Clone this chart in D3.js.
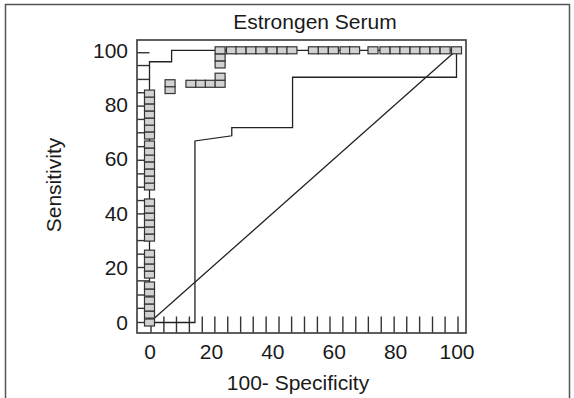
<!DOCTYPE html>
<html><head><meta charset="utf-8">
<script src="https://cdn.jsdelivr.net/npm/d3@7/dist/d3.min.js"></script>
<style>
body{margin:0;background:#fff}
svg{display:block}
text{font-family:"Liberation Sans",Arial,sans-serif;fill:#1a1a1a}
</style>
</head><body><svg id="c" width="574" height="398"></svg>
<script>
// ---------- data ----------
const chartTitle = "Estrongen Serum";
const xTitle = "100- Specificity";
const yTitle = "Sensitivity";
const xTickValues = [0, 20, 40, 60, 80, 100];
const yTickValues = [0, 20, 40, 60, 80, 100];

// fitted ROC curve (upper)
const rocX = [0, 0, 7.2, 7.2, 100];
const rocY = [0, 95.8, 95.8, 100, 100];
// second (stepped) curve
const lowX = [0, 14.8, 14.8, 26.8, 26.8, 46.6, 46.6, 100, 100];
const lowY = [0, 0, 66.7, 68.6, 71.6, 71.6, 90.1, 90.1, 100];
// reference diagonal
const diagX = [0, 100];
const diagY = [0, 100];

// box markers
const markerX = [
  0,0,0,0,0,0,0,0,0,0,0,0,0,0,0,0,0,0,0,0,0,0,0,0,0,0,0,0,0,0,
  6.7,6.7,
  13.5,16.7,19.8,23.0,23.0,
  23.0,23.0,23.0,
  26.7,29.8,33.1,36.3,39.9,43.2,46.4,53.4,56.6,59.9,63.7,66.8,
  72.8,76.7,80.0,83.2,86.5,89.7,93.0,96.3,100
];
const markerY = [
  0,2.9,5.5,8.1,11.0,13.6,17.6,20.2,22.8,25.3,31.2,33.8,36.4,38.9,41.5,44.1,
  50.0,52.5,55.1,57.7,60.3,62.8,65.4,68.7,71.3,73.8,76.4,79.0,81.6,84.1,
  85.4,87.9,
  87.7,87.7,87.7,87.7,90.3,
  94.8,97.4,100,
  100,100,100,100,100,100,100,100,100,100,100,100,
  100,100,100,100,100,100,100,100,100
];

// rug marks along the axes
const rugSens = [0,5.2,10.1,15.3,20.2,25.1,30.1,34.9,39.9,44.8,49.7,54.6,59.6,64.6,69.7,74.6,79.5,84.4,89.3,94.4,99.1];
const rugSpec = [0,4.2,8.3,12.5,16.7,20.8,25,29.2,33.3,37.5,41.7,45.8,50,54.2,58.3,62.5,66.7,70.8,75,79.2,83.3,87.5,91.7,95.8,100];

// ---------- drawing ----------
const svg = d3.select("#c");
const frame = {l:137, t:40, r:466, b:333};
const x = d3.scaleLinear().domain([0,100]).range([149.5,456.5]);
const y = d3.scaleLinear().domain([0,100]).range([322.5,50.3]);
const FS = 21;

// outer border
svg.append("path")
  .attr("d", "M5.5,410 V4.5 H569.5 V410")
  .attr("fill","none").attr("stroke","#555").attr("stroke-width",1.5);

// title
svg.append("text").attr("x",315).attr("y",29).attr("text-anchor","middle")
  .attr("font-size",FS).text(chartTitle);

// rug marks
svg.append("g").selectAll("line").data(rugSens).join("line")
  .attr("x1",frame.l).attr("x2",x(0)).attr("y1",d=>y(d)).attr("y2",d=>y(d))
  .attr("stroke","#333").attr("stroke-width",1.4);
svg.append("g").selectAll("line").data(rugSpec).join("line")
  .attr("x1",d=>x(d)+1.5).attr("x2",d=>x(d)+1.5).attr("y1",frame.b).attr("y2",frame.b-16.5)
  .attr("stroke","#333").attr("stroke-width",1.4);

// frame
svg.append("rect").attr("x",frame.l).attr("y",frame.t)
  .attr("width",frame.r-frame.l).attr("height",frame.b-frame.t)
  .attr("fill","none").attr("stroke","#444").attr("stroke-width",1.7);

const line = d3.line().x(d=>x(d[0])).y(d=>y(d[1]));
function drawLine(xs, ys){
  svg.append("path").datum(xs.map((v,i)=>[v, ys[i]]))
    .attr("d", line).attr("fill","none").attr("stroke","#222").attr("stroke-width",1.3);
}
drawLine(diagX, diagY);
drawLine(lowX, lowY);
drawLine(rocX, rocY);

// markers
const bw = 10, bh = 7;
svg.append("g").selectAll("rect").data(markerX.map((v,i)=>[v, markerY[i]])).join("rect")
  .attr("x",d=>x(d[0])-bw/2).attr("y",d=>y(d[1])-bh/2)
  .attr("width",bw).attr("height",bh)
  .attr("fill","#d2d2d2").attr("stroke","#333").attr("stroke-width",1.2);

// axes
const ax = svg.append("g").attr("transform",`translate(0,${frame.b})`)
  .call(d3.axisBottom(x).tickValues(xTickValues).tickSize(0).tickPadding(11));
ax.select(".domain").remove();
ax.selectAll("text").attr("font-size",FS).attr("font-family","Liberation Sans, Arial, sans-serif").attr("fill","#1a1a1a");

const ay = svg.append("g").attr("transform",`translate(${frame.l},0)`)
  .call(d3.axisLeft(y).tickValues(yTickValues).tickSize(0).tickPadding(9));
ay.select(".domain").remove();
ay.selectAll("text").attr("font-size",FS).attr("font-family","Liberation Sans, Arial, sans-serif").attr("fill","#1a1a1a");

// axis titles
svg.append("text").attr("x",298).attr("y",390).attr("text-anchor","middle")
  .attr("font-size",FS).text(xTitle);
svg.append("text").attr("transform","translate(61,185) rotate(-90)").attr("text-anchor","middle")
  .attr("font-size",FS).text(yTitle);
</script>
</body></html>
